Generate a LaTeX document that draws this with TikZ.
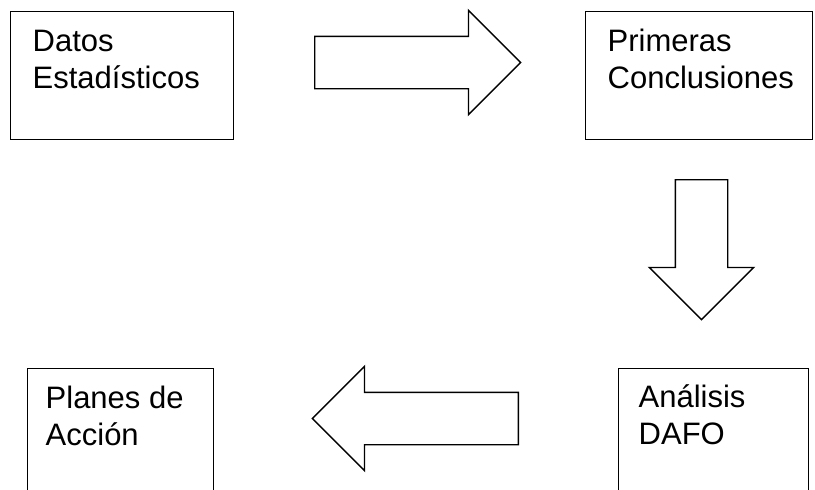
\documentclass[tikz,border=0pt]{standalone}
\usepackage{fontspec}
\setmainfont{Liberation Sans}
\usetikzlibrary{shapes.arrows}

\begin{document}
\begin{tikzpicture}[x=1pt, y=-1pt, line width=1.4pt,
      every node/.append style={inner sep=0pt},
      caja/.style={draw, rectangle, anchor=north west},
      flecha/.style={draw, single arrow, anchor=tail, inner sep=25.5pt, minimum width=103pt,
        minimum height=206pt, single arrow head extend=26pt, single arrow head indent=0pt},
      texto/.style={anchor=base west, align=left, font=\fontsize{31}{36.5}\selectfont}]
    \useasboundingbox (0,0) rectangle (815,490);
    \clip (0,0) rectangle (815,490);
    % cajas
    \node (datos) [caja, minimum width=223pt, minimum height=128pt] at (10,11) {};
    \node (primeras) [caja, minimum width=227pt, minimum height=128pt] at (585,11) {};
    \node (analisis) [caja, minimum width=190pt, minimum height=140pt] at (618,368) {};
    \node (planes) [caja, minimum width=186pt, minimum height=140pt] at (27,368) {};
    % textos (base = ultima linea)
    \node (datosT) [texto] at (32,88) {Datos\\Estadísticos};
    \node (primerasT) [texto] at (607,88) {Primeras\\Conclusiones};
    \node (analisisT) [texto] at (638,444) {Análisis\\DAFO};
    \node (planesT) [texto] at (45,445) {Planes de\\Acción};
    % flechas (puestas por la cola)
    \node (f1) [flecha] at (314,62.5) {};
    \node (f2) [flecha, minimum height=140pt, shape border rotate=270] at (701.5,179) {};
    \node (f3) [flecha, shape border rotate=180] at (519,418.5) {};
\end{tikzpicture}
\end{document}
